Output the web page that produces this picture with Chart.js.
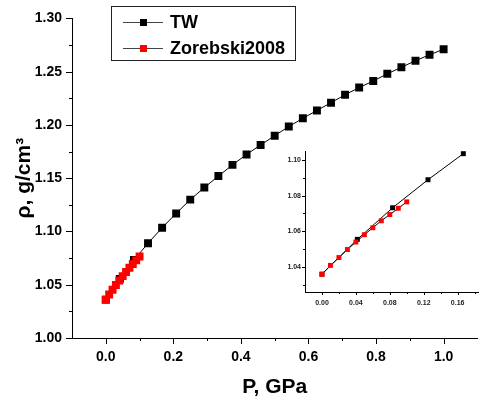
<!DOCTYPE html>
<html>
<head>
<meta charset="utf-8">
<script src="https://cdn.jsdelivr.net/npm/chart.js@4.4.1/dist/chart.umd.min.js"></script>
<style>
  body { margin: 0; background: #fff; }
  #wrap { position: relative; width: 483px; height: 398px; }
  #main { position: absolute; left: 0; top: 0; }
  #inset { position: absolute; left: 250px; top: 130px; }
</style>
</head>
<body>
<div id="wrap">
  <canvas id="main" width="483" height="398"></canvas>
  <canvas id="inset" width="233" height="190"></canvas>
</div>
<script>
  // TW series (pressure in GPa, density in g/cm3)
  const twPressure = [0, 0.0417, 0.0833, 0.125, 0.1667, 0.2083, 0.25, 0.2917, 0.3333, 0.375, 0.4167, 0.4583,
    0.5, 0.5417, 0.5833, 0.625, 0.6667, 0.7083, 0.75, 0.7917, 0.8333, 0.875, 0.9167, 0.9583, 1.0];
  const twDensity = [1.036, 1.0555, 1.0732, 1.0889, 1.1035, 1.1169, 1.1299, 1.1412, 1.1520, 1.1625, 1.1723, 1.1812,
    1.1899, 1.1985, 1.2062, 1.2136, 1.2209, 1.2283, 1.2351, 1.2412, 1.2480, 1.2541, 1.2603, 1.2658, 1.2711];

  // Zorebski2008 series
  const zorPressure = [0, 0.01, 0.02, 0.03, 0.04, 0.05, 0.06, 0.07, 0.08, 0.09, 0.10];
  const zorDensity = [1.0359, 1.0409, 1.0453, 1.0498, 1.0540, 1.0581, 1.0620, 1.0659, 1.0694, 1.0729, 1.0765];

  // tick values
  const mainXMajor = [0, 0.2, 0.4, 0.6, 0.8, 1.0];
  const mainXMinor = [0.1, 0.3, 0.5, 0.7, 0.9];
  const mainYMajor = [1.00, 1.05, 1.10, 1.15, 1.20, 1.25, 1.30];
  const mainYMinor = [1.025, 1.075, 1.125, 1.175, 1.225, 1.275];
  const insetXMajor = [0, 0.04, 0.08, 0.12, 0.16];
  const insetXMinor = [0.02, 0.06, 0.10, 0.14, 0.18];
  const insetYMajor = [1.04, 1.06, 1.08, 1.10];
  const insetYMinor = [1.03, 1.05, 1.07, 1.09];

  const insetTwCount = 5;
  const FONT = '"Liberation Sans", Arial, sans-serif';

  const toPoints = (xs, ys) => xs.map((x, i) => ({ x: x, y: ys[i] }));

  // draws outward major / minor tick marks on the x and y axes
  const tickMarks = {
    id: 'tickMarks',
    afterDraw(chart, args, opts) {
      const { ctx, chartArea, scales } = chart;
      ctx.save();
      ctx.strokeStyle = '#000';
      ctx.lineWidth = 1;
      ctx.beginPath();
      const xTick = (v, len) => {
        const px = Math.round(scales.x.getPixelForValue(v)) + 0.5;
        ctx.moveTo(px, chartArea.bottom);
        ctx.lineTo(px, chartArea.bottom + len);
      };
      const yTick = (v, len) => {
        const py = Math.round(scales.y.getPixelForValue(v)) + 0.5;
        ctx.moveTo(chartArea.left, py);
        ctx.lineTo(chartArea.left - len, py);
      };
      opts.xMajor.forEach(v => xTick(v, opts.major));
      opts.xMinor.forEach(v => xTick(v, opts.minor));
      opts.yMajor.forEach(v => yTick(v, opts.major));
      opts.yMinor.forEach(v => yTick(v, opts.minor));
      ctx.stroke();
      ctx.restore();
    }
  };

  // boxed legend in the upper left of the main plot
  const boxLegend = {
    id: 'boxLegend',
    afterDraw(chart, args, opts) {
      if (!opts.display) return;
      const ctx = chart.ctx;
      ctx.save();
      ctx.strokeStyle = '#222';
      ctx.lineWidth = 1;
      ctx.strokeRect(111.5, 6.5, 184, 54);
      ctx.font = 'bold 18px ' + FONT;
      ctx.textBaseline = 'middle';
      ctx.fillStyle = '#000';
      chart.data.datasets.forEach((ds, i) => {
        const y = 22 + i * 26;
        ctx.beginPath();
        ctx.strokeStyle = '#444';
        ctx.moveTo(123, y + 0.5);
        ctx.lineTo(163, y + 0.5);
        ctx.stroke();
        ctx.fillStyle = ds.pointBackgroundColor;
        ctx.fillRect(140, y - 3, 7, 7);
        ctx.fillStyle = '#000';
        ctx.fillText(ds.label, 170, y + 1);
      });
      ctx.restore();
    }
  };

  function axis(cfg) {
    return {
      type: 'linear',
      min: cfg.min,
      max: cfg.max,
      afterBuildTicks: scale => { scale.ticks = cfg.ticks.map(v => ({ value: v })); },
      afterFit: scale => {
        if (cfg.height != null) scale.height = cfg.height;
        if (cfg.width != null) scale.width = cfg.width;
      },
      grid: { display: false, drawTicks: false },
      border: { display: true, color: '#000', width: 1 },
      ticks: {
        autoSkip: false,
        maxRotation: 0,
        padding: cfg.padding,
        color: cfg.color || '#000',
        font: { family: FONT, size: cfg.fontSize, weight: 'bold' },
        callback: v => v.toFixed(cfg.digits)
      },
      title: cfg.title ? {
        display: true,
        text: cfg.title,
        color: '#000',
        font: { family: FONT, size: 21, weight: 'bold', lineHeight: 1 },
        padding: cfg.titlePadding
      } : { display: false }
    };
  }

  // red series gets the lower order so it is painted over the TW squares
  function datasets(twCount) {
    return [
      {
        label: 'TW',
        data: toPoints(twPressure.slice(0, twCount), twDensity.slice(0, twCount)),
        order: 1,
        borderColor: '#000',
        borderWidth: 1,
        pointStyle: 'rect',
        pointBackgroundColor: '#000',
        pointBorderWidth: 0,
        tension: 0
      },
      {
        label: 'Zorebski2008',
        data: toPoints(zorPressure, zorDensity),
        order: 0,
        borderColor: '#000',
        borderWidth: 1,
        pointStyle: 'rect',
        pointBackgroundColor: '#ff0000',
        pointBorderWidth: 0,
        tension: 0
      }
    ];
  }

  const mainSets = datasets(twPressure.length);
  mainSets.forEach(ds => { ds.pointRadius = 5.6; });

  new Chart(document.getElementById('main'), {
    type: 'line',
    data: { datasets: mainSets },
    options: {
      responsive: false,
      animation: false,
      devicePixelRatio: 1,
      layout: { padding: { top: 13, right: 0, left: 0, bottom: 0 } },
      scales: {
        x: axis({ min: -0.1, max: 1.1, ticks: mainXMajor, height: 60, padding: 11, fontSize: 14, digits: 1,
          title: 'P, GPa', titlePadding: { top: 0, bottom: 0 } }),
        y: axis({ min: 1.0, max: 1.3, ticks: mainYMajor, width: 72, padding: 10, fontSize: 14, digits: 2,
          title: 'ρ, g/cm³', titlePadding: { top: 14, bottom: 0 } })
      },
      plugins: {
        legend: { display: false },
        tooltip: { enabled: false },
        tickMarks: { xMajor: mainXMajor, xMinor: mainXMinor, yMajor: mainYMajor, yMinor: mainYMinor, major: 6, minor: 3 },
        boxLegend: { display: true }
      }
    },
    plugins: [tickMarks, boxLegend]
  });

  const insetSets = datasets(insetTwCount);
  insetSets.forEach(ds => { ds.pointRadius = 3.5; });

  new Chart(document.getElementById('inset'), {
    type: 'line',
    data: { datasets: insetSets },
    options: {
      responsive: false,
      animation: false,
      devicePixelRatio: 1,
      layout: { padding: { top: 21, right: 5, left: 0, bottom: 0 } },
      scales: {
        x: axis({ min: -0.02, max: 0.184, ticks: insetXMajor, height: 28, padding: 7, fontSize: 7, digits: 2, color: '#222' }),
        y: axis({ min: 1.026, max: 1.105, ticks: insetYMajor, width: 55, padding: 4, fontSize: 7, digits: 2, color: '#222' })
      },
      plugins: {
        legend: { display: false },
        tooltip: { enabled: false },
        tickMarks: { xMajor: insetXMajor, xMinor: insetXMinor, yMajor: insetYMajor, yMinor: insetYMinor, major: 3, minor: 2 },
        boxLegend: { display: false }
      }
    },
    plugins: [tickMarks, boxLegend]
  });
</script>
</body>
</html>
